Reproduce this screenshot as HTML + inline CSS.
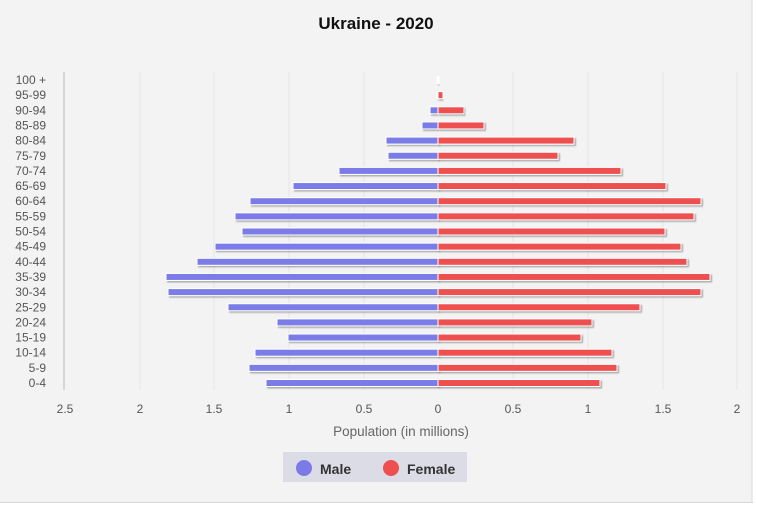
<!DOCTYPE html>
<html><head><style>
body{margin:0;background:#fff}
svg{display:block;font-family:"Liberation Sans","DejaVu Sans",sans-serif}
</style></head><body>
<svg width="757" height="509" viewBox="0 0 757 509">
<defs><filter id="sh" x="-5%" y="-50%" width="110%" height="200%"><feDropShadow dx="1.5" dy="1.5" stdDeviation="0.8" flood-color="#000" flood-opacity="0.3"/></filter></defs>
<rect x="0" y="0" width="753" height="503" fill="#f3f3f3"/>
<rect x="752" y="0" width="5" height="509" fill="#fff"/>
<rect x="0" y="502" width="757" height="7" fill="#fff"/>
<line x1="752" y1="0" x2="752" y2="503" stroke="#d8d8d8"/>
<line x1="0" y1="502.5" x2="753" y2="502.5" stroke="#d8d8d8"/>
<text x="376" y="29" text-anchor="middle" font-size="17" font-weight="bold" fill="#111">Ukraine - 2020</text>
<g stroke="#e6e6e6" stroke-width="1">
<line x1="140" y1="72" x2="140" y2="390"/><line x1="214" y1="72" x2="214" y2="390"/><line x1="289" y1="72" x2="289" y2="390"/><line x1="364" y1="72" x2="364" y2="390"/><line x1="513" y1="72" x2="513" y2="390"/><line x1="588" y1="72" x2="588" y2="390"/><line x1="663" y1="72" x2="663" y2="390"/><line x1="737" y1="72" x2="737" y2="390"/>
</g>
<line x1="64" y1="72" x2="64" y2="390" stroke="#ccc" stroke-width="1.5"/>
<g font-size="12" fill="#555" text-anchor="end" id="labels"></g>
<g id="bars"></g>
<g font-size="12" fill="#555" text-anchor="middle">
<text x="65" y="413">2.5</text><text x="140" y="413">2</text><text x="214" y="413">1.5</text><text x="289" y="413">1</text><text x="364" y="413">0.5</text><text x="438" y="413">0</text><text x="513" y="413">0.5</text><text x="588" y="413">1</text><text x="663" y="413">1.5</text><text x="737" y="413">2</text>
</g>
<text x="401" y="436" text-anchor="middle" font-size="13.5" fill="#666">Population (in millions)</text>
<rect x="283" y="452" width="184" height="30" fill="#dcdce6"/>
<circle cx="304" cy="468" r="8" fill="#7b7be8"/>
<text x="320" y="474" font-size="14" font-weight="bold" fill="#333">Male</text>
<circle cx="391" cy="468" r="8" fill="#ee4f4f"/>
<text x="407" y="474" font-size="14" font-weight="bold" fill="#333">Female</text>
<script>
var L=["100 +","95-99","90-94","85-89","80-84","75-79","70-74","65-69","60-64","55-59","50-54","45-49","40-44","35-39","30-34","25-29","20-24","15-19","10-14","5-9","0-4"];
var M=[437,437,430,422,386,388,339,293,250,235,242,215,197,166,168,228,277,288,255,249,266];
var F=[439,443,464,484,574,558,621,666,701,694,665,681,687,710,701,640,592,581,612,617,600];
var ns="http://www.w3.org/2000/svg",lg=document.getElementById("labels"),bg=document.getElementById("bars");
for(var i=0;i<21;i++){var y=80+i*15.15;
var t=document.createElementNS(ns,"text");t.setAttribute("x",46);t.setAttribute("y",y+4);t.textContent=L[i];lg.appendChild(t);
var r=document.createElementNS(ns,"rect");r.setAttribute("x",M[i]);r.setAttribute("y",y-3.5);r.setAttribute("width",438-M[i]);r.setAttribute("height",7);r.setAttribute("fill","#7b7be8");r.setAttribute("stroke","#fff");r.setAttribute("stroke-width","1");r.setAttribute("filter","url(#sh)");bg.appendChild(r);
r=document.createElementNS(ns,"rect");r.setAttribute("x",438);r.setAttribute("y",y-3.5);r.setAttribute("width",F[i]-438);r.setAttribute("height",7);r.setAttribute("fill","#ee4f4f");r.setAttribute("stroke","#fff");r.setAttribute("stroke-width","1");r.setAttribute("filter","url(#sh)");bg.appendChild(r);}
</script>
</svg>
</body></html>
